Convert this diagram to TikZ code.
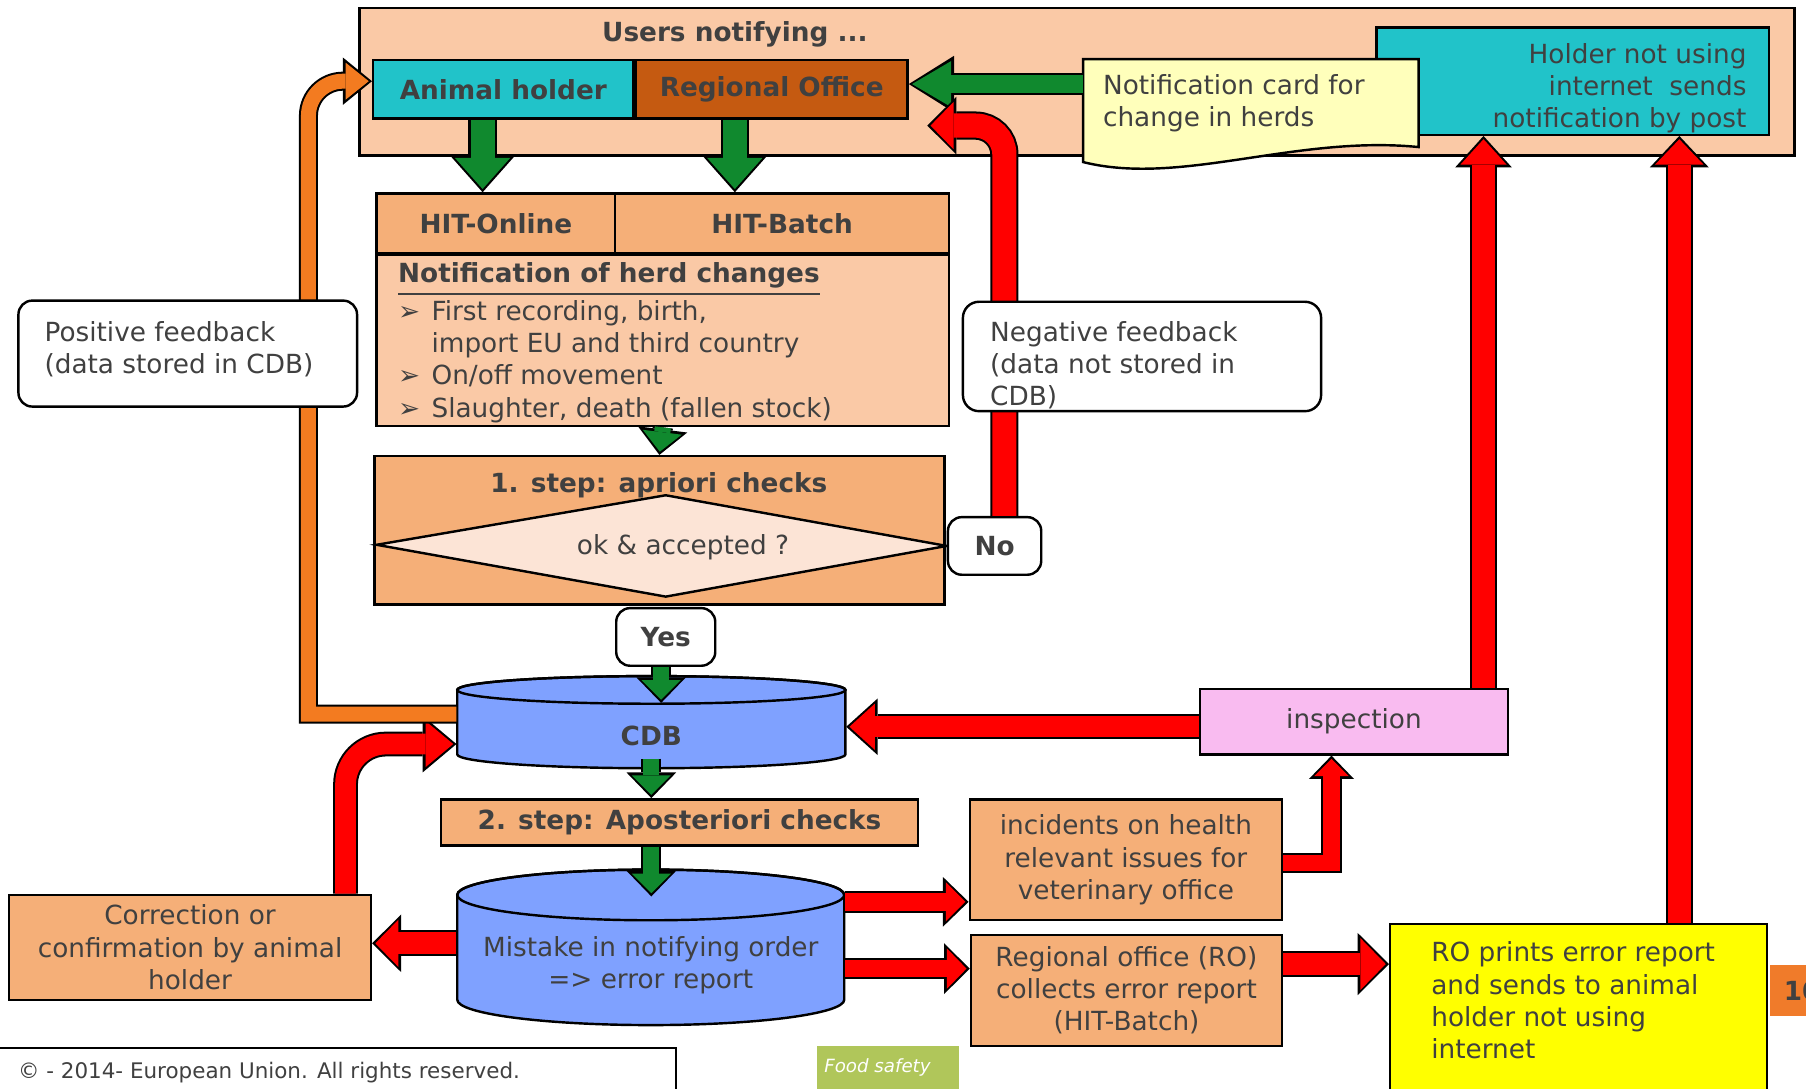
\documentclass[tikz,border=0pt]{standalone}
\usepackage{fontspec}
\setmainfont{DejaVu Sans}
\usetikzlibrary{arrows.meta,calc}

\tikzset{
  box/.style={draw=black, line width=0.6pt, inner sep=0pt, text=r64g64b64},
  roundbox/.style={box, fill=white, rounded corners=0.12cm},
  plaintext/.style={inner sep=0pt, text=r64g64b64},
}

\newcommand{\herdbullet}{\makebox[0.29cm][l]{➢}}
\newcommand{\herdindent}{\makebox[0.29cm][l]{}}

% block arrow: colour, shaft width, head length, head width, path
\newcommand{\blockarrow}[5]{%
  \pgfmathsetlengthmacro{\bashaft}{#2+1.0pt}%
  \pgfmathsetlengthmacro{\bahead}{#3+1.5pt}%
  \pgfmathsetlengthmacro{\bawide}{#4+2.6pt}%
  \draw [black, line width=\bashaft, -{Triangle[length=\bahead, width=\bawide, line width=0pt]}] #5;%
  \draw [#1, line width=#2, shorten >=0.8pt, -{Triangle[length=#3, width=#4, line width=0pt]}] #5;%
}

\begin{document}
\begin{tikzpicture}
    \useasboundingbox (0,0) rectangle (15.680000,-9.450000);%
    \clip (0,0) rectangle (15.680000,-9.450000);%
    {\fontsize{6.5pt}{7.95pt}\selectfont

    % Defining colors
    \definecolor{r64g64b64}{rgb}{0.250980,0.250980,0.250980}%
    \definecolor{r250g201b166}{rgb}{0.980392,0.788235,0.650980}%
    \definecolor{r33g195b201}{rgb}{0.129412,0.764706,0.788235}%
    \definecolor{r197g90b17}{rgb}{0.772549,0.352941,0.066667}%
    \definecolor{r255g255b187}{rgb}{1.000000,1.000000,0.733333}%
    \definecolor{r245g175b120}{rgb}{0.960784,0.686275,0.470588}%
    \definecolor{r252g228b214}{rgb}{0.988235,0.894118,0.839216}%
    \definecolor{r127g161b255}{rgb}{0.498039,0.631373,1.000000}%
    \definecolor{r249g187b240}{rgb}{0.976471,0.733333,0.941176}%
    \definecolor{r255g255b0}{rgb}{1.000000,1.000000,0.000000}%
    \definecolor{r240g123b42}{rgb}{0.941176,0.482353,0.164706}%
    \definecolor{r243g123b32}{rgb}{0.952941,0.482353,0.125490}%
    \definecolor{r16g137b46}{rgb}{0.062745,0.537255,0.180392}%
    \definecolor{r255g0b0}{rgb}{1.000000,0.000000,0.000000}%
    \definecolor{r176g198b90}{rgb}{0.690196,0.776471,0.352941}%

    \fill [white] (0,0) rectangle (15.680000,-9.450000);%

    % Marking box Users notifying
    \draw (9.350000,-0.710000) node [box, fill=r250g201b166, minimum width=12.46cm, minimum height=1.28cm] (users) {};%
    \draw (6.380000,-0.300000) node [plaintext, font=\bfseries] (userst) {Users notifying ...};%

    % Marking box Holder not using internet
    \draw (13.655000,-0.705000) node [box, fill=r33g195b201, minimum width=3.41cm, minimum height=0.93cm] (holder) {};%
    \draw (15.170000,-0.765000) node [plaintext, anchor=east, align=right] (holdert) {Holder not using\\internet\ \ sends\\notification by post};%

    % Marking notification card
    \draw (10.860000,-0.960000) node [minimum width=2.90cm, minimum height=0.88cm, inner sep=0pt] (card) {};%
    \filldraw [box, fill=r255g255b187] (card.north west) -- (card.north east) -- ($(card.south east)+(0,0.13)$) .. controls (11.250000,-1.170000) and (10.250000,-1.620000) .. (card.south west) -- cycle;%
    \draw (9.570000,-0.900000) node [plaintext, anchor=west, align=left] (cardt) {Notification card for\\change in herds};%

    % Marking box Animal holder and Regional Office
    \draw (4.370000,-0.775000) node [box, fill=r33g195b201, minimum width=2.26cm, minimum height=0.51cm, font=\bfseries] (ah) {Animal holder};%
    \draw (6.700000,-0.775000) node [box, fill=r197g90b17, minimum width=2.36cm, minimum height=0.51cm, font=\bfseries] (ro) {Regional Office};%

    % Marking box HIT-Online and HIT-Batch
    \draw (4.305000,-1.940000) node [box, fill=r245g175b120, minimum width=2.07cm, minimum height=0.52cm, font=\bfseries] (onl) {HIT-Online};%
    \draw (6.790000,-1.940000) node [box, fill=r245g175b120, minimum width=2.90cm, minimum height=0.52cm, font=\bfseries] (bat) {HIT-Batch};%

    % Marking box Notification of herd changes
    \draw (5.755000,-2.955000) node [box, fill=r250g201b166, minimum width=4.97cm, minimum height=1.49cm] (notif) {};%
    \draw (3.450000,-2.975000) node [plaintext, anchor=west, align=left] (notift) {\textbf{\underline{Notification of herd changes}}\\\herdbullet First recording, birth,\\\herdindent import EU and third country\\\herdbullet On/off movement\\\herdbullet Slaughter, death (fallen stock)};%

    % Marking box 1. step
    \draw (5.725000,-4.605000) node [box, fill=r245g175b120, minimum width=4.95cm, minimum height=1.29cm] (step1) {};%
    \filldraw [box, fill=r252g228b214] (3.270000,-4.730000) -- (5.780000,-4.300000) -- (8.220000,-4.740000) -- (5.780000,-5.180000) -- cycle;%
    \draw (5.720000,-4.210000) node [plaintext, font=\bfseries] (step1t) {1. step: apriori checks};%
    \draw (5.930000,-4.750000) node [plaintext] (okt) {ok \& accepted ?};%

    % Marking No and Yes
    \draw (8.635000,-4.740000) node [roundbox, minimum width=0.81cm, minimum height=0.50cm, font=\bfseries] (no) {No};%
    \draw (5.780000,-5.530000) node [roundbox, minimum width=0.86cm, minimum height=0.50cm, font=\bfseries] (yes) {Yes};%

    % Drawing cylinder CDB
    \filldraw [box, fill=r127g161b255] (3.970000,-5.990000) -- (3.970000,-6.550000) arc [start angle=180, end angle=360, x radius=1.685000, y radius=0.120000] -- (7.340000,-5.990000) arc [start angle=0, end angle=180, x radius=1.685000, y radius=0.120000] -- cycle;%
    \draw [box] (5.655000,-5.990000) ellipse [x radius=1.685000, y radius=0.120000];%
    \draw (5.655000,-6.390000) node [plaintext, minimum width=3.37cm, minimum height=0.56cm, font=\bfseries] (cdb) {CDB};%

    % Marking box 2. step
    \draw (5.900000,-7.140000) node [box, fill=r245g175b120, minimum width=4.14cm, minimum height=0.40cm, font=\bfseries] (step2) {2. step: Aposteriori checks};%

    % Drawing cylinder Mistake
    \filldraw [box, fill=r127g161b255] (3.970000,-7.770000) -- (3.970000,-8.680000) arc [start angle=180, end angle=360, x radius=1.680000, y radius=0.220000] -- (7.330000,-7.770000) arc [start angle=0, end angle=180, x radius=1.680000, y radius=0.220000] -- cycle;%
    \draw [box] (5.650000,-7.770000) ellipse [x radius=1.680000, y radius=0.220000];%
    \draw (5.650000,-8.380000) node [plaintext, minimum width=3.36cm, minimum height=1.00cm, align=center] (mist) {Mistake in notifying order\\=> error report};%

    % Marking box inspection
    \draw (11.755000,-6.265000) node [box, fill=r249g187b240, minimum width=2.67cm, minimum height=0.57cm] (insp) {inspection};%

    % Marking box incidents
    \draw (9.775000,-7.465000) node [box, fill=r245g175b120, minimum width=2.71cm, minimum height=1.05cm, align=center] (inc) {incidents on health\\relevant issues for\\veterinary office};%

    % Marking box Regional office (RO)
    \draw (9.780000,-8.600000) node [box, fill=r245g175b120, minimum width=2.70cm, minimum height=0.96cm, align=center] (robox) {Regional office (RO)\\collects error report\\(HIT-Batch)};%

    % Marking box RO prints
    \draw (13.705000,-8.860000) node [box, fill=r255g255b0, minimum width=3.27cm, minimum height=1.68cm] (prints) {};%
    \draw (12.420000,-8.685000) node [plaintext, anchor=west, align=left] (printst) {RO prints error report\\and sends to animal\\holder not using\\internet};%

    % Marking page tab
    \draw (15.360000,-8.600000) node [plaintext, anchor=west, fill=r240g123b42, minimum height=0.44cm, inner xsep=0.12cm, font=\bfseries] (tab) {10};%

    % Marking box Correction
    \draw (1.650000,-8.225000) node [box, fill=r245g175b120, minimum width=3.14cm, minimum height=0.91cm, align=center] (corr) {Correction or\\confirmation by animal\\holder};%

    % Marking footer
    \draw (2.925000,-9.400000) node [box, fill=white, minimum width=5.89cm, minimum height=0.60cm] (copybox) {};%
    \draw (0.150000,-9.310000) node [plaintext, anchor=west, font=\fontsize{5.3pt}{6.4pt}\selectfont] (copyt) {© - 2014- European Union. All rights reserved.};%
    \draw (7.710000,-9.290000) node [fill=r176g198b90, minimum width=1.24cm, minimum height=0.42cm, inner sep=0pt] (food) {};%
    \draw (7.150000,-9.270000) node [anchor=west, inner sep=0pt, text=white, font=\fontsize{4.5pt}{5.4pt}\selectfont\itshape] (foodt) {Food safety};%

    % Drawing green arrows
    \coordinate (ahout) at ($(ah.south)+(-0.18,0)$);%
    \coordinate (roout) at ($(ro.south)+(-0.32,0)$);%
    \coordinate (cardout) at ($(card.west)+(0,0.23)$);%
    \coordinate (yesout) at ($(yes.south)+(-0.04,0)$);%
    \coordinate (cdbout) at ($(cdb.south)+(0,0.09)$);%
    \coordinate (s2out) at (step2.south -| cdb.south);%
    \coordinate (mistin) at ($(mist.north)+(0,0.09)$);%
    \blockarrow{r16g137b46}{0.21cm}{0.27cm}{0.48cm}{(ahout) -- (ahout |- onl.north)}
    \blockarrow{r16g137b46}{0.21cm}{0.27cm}{0.48cm}{(roout) -- (roout |- bat.north)}
    \blockarrow{r16g137b46}{0.16cm}{0.34cm}{0.40cm}{(cardout) -- (cardout -| ro.east)}
    \blockarrow{r16g137b46}{0.14cm}{0.17cm}{0.34cm}{(notif.south) -- (step1.north)}

    % Drawing red arrows
    \coordinate (noout) at ($(no.north)+(0.085,0)$);%
    \coordinate (nofree) at ($(ro.south east)+(0.16,-0.05)$);%
    \coordinate (inspout) at ($(insp.west)+(0,-0.045)$);%
    \coordinate (inspup) at ($(insp.north)+(1.125,0)$);%
    \coordinate (printsup) at ($(prints.north)+(0.875,0)$);%
    \coordinate (mistinc) at ($(mist.east)+(0,0.55)$);%
    \coordinate (mistro) at ($(mist.east)+(0,-0.03)$);%
    \coordinate (roprint) at ($(robox.east)+(0,0.23)$);%
    \coordinate (incout) at ($(inc.east)+(0,-0.025)$);%
    \coordinate (inspin) at ($(insp.south)+(-0.195,0)$);%
    \coordinate (mistcorr) at ($(mist.west)+(0,0.19)$);%
    \coordinate (corrup) at ($(corr.north)+(1.35,0)$);%
    \coordinate (cdbin) at ($(cdb.west)+(0,-0.07)$);%
    \blockarrow{r255g0b0}{0.21cm}{0.20cm}{0.41cm}{[rounded corners=0.25cm] (noout) -- (noout |- nofree) -- (nofree)}
    \blockarrow{r255g0b0}{0.18cm}{0.22cm}{0.40cm}{(inspout) -- (inspout -| cdb.east)}
    \blockarrow{r255g0b0}{0.20cm}{0.22cm}{0.40cm}{(inspup) -- (inspup |- holder.south)}
    \blockarrow{r255g0b0}{0.20cm}{0.22cm}{0.42cm}{(printsup) -- (printsup |- holder.south)}
    \blockarrow{r255g0b0}{0.16cm}{0.17cm}{0.34cm}{(mistinc) -- (mistinc -| inc.west)}
    \blockarrow{r255g0b0}{0.15cm}{0.17cm}{0.35cm}{(mistro) -- (mistro -| robox.west)}
    \blockarrow{r255g0b0}{0.19cm}{0.22cm}{0.45cm}{(roprint) -- (roprint -| prints.west)}
    \blockarrow{r255g0b0}{0.14cm}{0.15cm}{0.30cm}{(incout) -| (inspin)}
    \blockarrow{r255g0b0}{0.19cm}{0.20cm}{0.41cm}{(mistcorr) -- (mistcorr -| corr.east)}
    \blockarrow{r255g0b0}{0.18cm}{0.24cm}{0.40cm}{[rounded corners=0.35cm] (corrup) -- (corrup |- cdbin) -- (cdbin)}

    % Drawing orange arrow
    \coordinate (cdbleft) at ($(cdb.west)+(0,0.19)$);%
    \coordinate (orcorner) at ($(cdbleft)+(-1.285,0)$);%
    \coordinate (ahin) at ($(ah.west)+(0,0.07)$);%
    \blockarrow{r243g123b32}{0.13cm}{0.20cm}{0.32cm}{(cdbleft) -- (orcorner) [rounded corners=0.3cm] -- (orcorner |- ahin) -- (ahin)}

    % Drawing green arrows into the cylinders
    \blockarrow{r16g137b46}{0.14cm}{0.17cm}{0.34cm}{(yesout) -- (yesout |- cdb.north)}
    \blockarrow{r16g137b46}{0.14cm}{0.17cm}{0.34cm}{(cdbout) -- (cdbout |- step2.north)}
    \blockarrow{r16g137b46}{0.14cm}{0.17cm}{0.34cm}{(s2out) -- (s2out |- mistin)}

    % Marking feedback boxes
    \draw (9.915000,-3.095000) node [roundbox, rounded corners=0.14cm, minimum width=3.11cm, minimum height=0.95cm] (negf) {};%
    \draw (8.590000,-3.170000) node [plaintext, anchor=west, align=left] (negft) {Negative feedback\\(data not stored in\\CDB)};%
    \draw (1.630000,-3.070000) node [roundbox, minimum width=2.94cm, minimum height=0.92cm] (posf) {};%
    \draw (0.380000,-3.030000) node [plaintext, anchor=west, align=left] (posft) {Positive feedback\\(data stored in CDB)};%
    }
\end{tikzpicture}
\end{document}
